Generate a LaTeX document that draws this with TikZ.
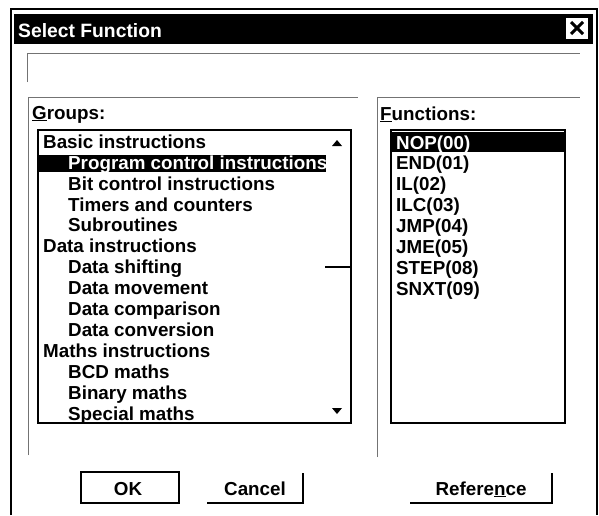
\documentclass[tikz,border=0pt]{standalone}
\usepackage{fontspec}
\setmainfont{Liberation Sans}
\begin{document}
\begin{tikzpicture}[x=1pt,y=-1pt,
  txt/.style={anchor=base west,inner sep=0pt,font=\fontsize{18.8}{20}\selectfont\bfseries},
  btxt/.style={anchor=base,inner sep=0pt,font=\fontsize{18.8}{20}\selectfont\bfseries},
  etched/.style={draw=black!55,line width=1pt},
  listframe/.style={draw=black,line width=1.6pt},
  hilite/.style={fill=black},
  arrowtri/.style={fill=black}]
\useasboundingbox (0,0) rectangle (599,515);
\fill[white] (0,0) rectangle (599,515);
% outer window
\draw[line width=1.2pt] (11,515) -- (11,9) -- (597,9) -- (597,515);
\fill[black] (14,14) rectangle (593,44);
\node[txt,white,font=\fontsize{19.3}{20}\selectfont\bfseries] (title) at (18,37) {Select Function};
\node[fill=white,inner sep=0pt,minimum width=22pt,minimum height=21pt] (close) at (577,28) {};
\draw[line width=3pt] ([shift={(-6,-6)}]close.center) -- ([shift={(6,6)}]close.center);
\draw[line width=3pt] ([shift={(-6,6)}]close.center) -- ([shift={(6,-6)}]close.center);
% top empty box
\draw[etched] (27,82) -- (27,53) -- (580,53);
% group frames
\draw[etched] (28,455) -- (28,97) -- (358,97);
\draw[etched] (377,457) -- (377,97) -- (580,97);
\node[txt] (glabel) at (32,119) {\underline{G}roups:};
\node[txt] (flabel) at (380,120) {\underline{F}unctions:};
% groups list
\fill[hilite] (38,155) rectangle (326,172);
\draw[listframe] (38,130) rectangle (351,423);
\fill[arrowtri] (332,146) -- (342,146) -- (337,140) -- cycle;
\fill[arrowtri] (332,408) -- (342,408) -- (337,414) -- cycle;
\draw[line width=1.3pt] (325,267) -- (350,267);
\node[txt] (g1) at (43,148) {Basic instructions};
\node[txt,white] (g2) at (68,169) {Program control instructions};
\node[txt] (g3) at (68,190) {Bit control instructions};
\node[txt] (g4) at (68,211) {Timers and counters};
\node[txt] (g5) at (68,231.5) {Subroutines};
\node[txt] (g6) at (43,252.5) {Data instructions};
\node[txt] (g7) at (68,273.5) {Data shifting};
\node[txt] (g8) at (68,294.5) {Data movement};
\node[txt] (g9) at (68,315.5) {Data comparison};
\node[txt] (g10) at (68,336.5) {Data conversion};
\node[txt] (g11) at (43,357.5) {Maths instructions};
\node[txt] (g12) at (68,378) {BCD maths};
\node[txt] (g13) at (68,399) {Binary maths};
\node[txt] (g14) at (68,420) {Special maths};
% functions list
\fill[hilite] (391,132) rectangle (565,152);
\draw[listframe] (391,130) rectangle (565,423);
\node[txt,white] (f1) at (396,149) {NOP(00)};
\node[txt] (f2) at (396,169.5) {END(01)};
\node[txt] (f3) at (396,190.5) {IL(02)};
\node[txt] (f4) at (396,211.5) {ILC(03)};
\node[txt] (f5) at (396,232.5) {JMP(04)};
\node[txt] (f6) at (396,253.5) {JME(05)};
\node[txt] (f7) at (396,274.5) {STEP(08)};
\node[txt] (f8) at (396,295.5) {SNXT(09)};
% buttons
\draw[line width=1.4pt] (81,472) rectangle (179,503);
\node[btxt] (ok) at (128,495) {OK};
\draw[line width=1.4pt] (207,503) -- (303,503) -- (303,473);
\node[btxt] (cancel) at (255,495) {Cancel};
\draw[line width=1.4pt] (410,503) -- (552,503) -- (552,473);
\node[btxt] (ref) at (481,495) {Refere\underline{n}ce};
\end{tikzpicture}
\end{document}
